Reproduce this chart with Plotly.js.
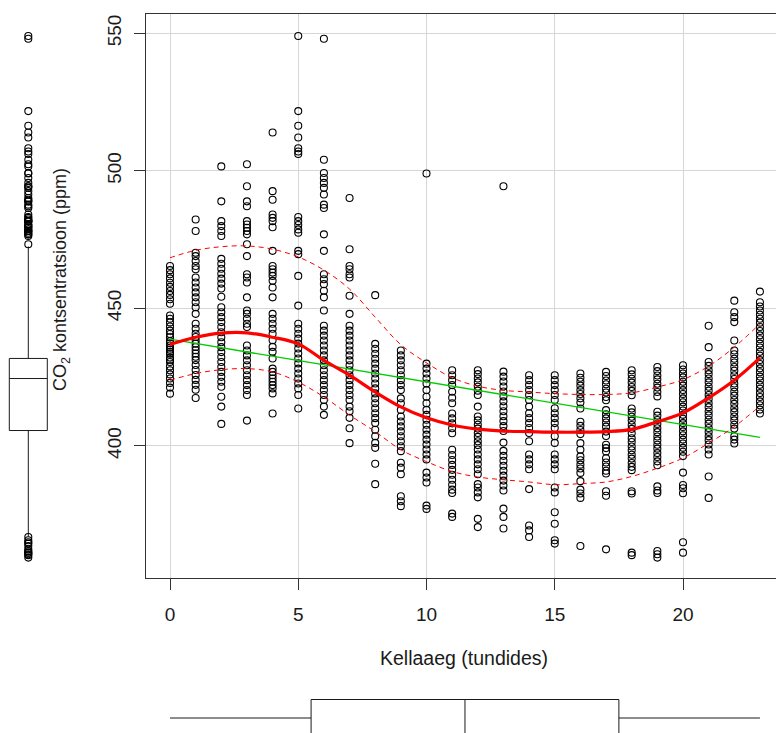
<!DOCTYPE html>
<html><head><meta charset="utf-8">
<script src="https://cdn.plot.ly/plotly-3.0.1.min.js"></script>
<style>
html,body{margin:0;padding:0;overflow:hidden;background:#fff;}
#wrap{width:776px;height:733px;overflow:hidden;position:relative;}
#chart{width:800px;height:760px;}
</style>
</head><body><div id="wrap"><div id="chart"></div></div>
<script>
// ---- Data: CO2 readings (ppm) by hour of day ----
const hours = [0,1,2,3,4,5,6,7,8,9,10,11,12,13,14,15,16,17,18,19,20,21,22,23];
const co2_h00 = [465.4,463.9,462.4,460.9,459.3,457.8,456.3,454.9,453.3,451.7,447.4,446.2,444.9,443.4,441.9,440.7,439.5,438.1,437.3,436.5,435.7,435.0,434.2,433.5,432.1,431.3,430.5,428.9,427.5,426.0,424.5,422.9,421.2,419.0];
const co2_h01 = [482.3,478.1,470.2,469.0,467.2,465.4,464.2,461.2,459.4,457.6,455.8,454.0,452.2,450.4,448.0,444.4,442.6,440.8,439.6,438.4,437.2,436.0,434.8,433.6,432.4,431.2,429.4,427.6,425.8,424.0,422.2,420.4,417.4];
const co2_h02 = [501.6,488.9,481.7,479.9,478.1,476.3,468.0,466.2,464.4,462.6,460.8,459.0,457.2,454.2,450.4,448.6,446.8,445.0,443.2,441.3,439.5,437.7,435.9,434.1,432.3,430.5,428.7,426.9,425.1,423.3,421.5,417.9,414.3,408.0];
const co2_h03 = [502.4,494.4,488.9,487.1,481.7,480.5,479.3,478.1,476.9,473.3,469.0,462.4,461.2,459.4,454.0,449.2,448.0,446.2,444.4,443.2,436.5,434.7,432.9,431.1,429.3,427.5,425.7,423.9,422.1,420.3,418.5,409.2];
const co2_h04 = [513.9,492.6,489.5,484.1,482.9,481.7,479.5,470.9,465.4,464.2,463.0,461.8,460.0,457.6,454.0,448.0,446.2,444.4,442.6,440.8,438.4,436.0,434.2,431.8,428.1,426.9,425.7,424.5,423.3,422.1,420.9,419.1,411.8];
const co2_h05 = [549.0,521.7,516.4,512.1,508.2,507.0,506.1,483.2,481.7,480.3,478.7,477.5,470.9,469.7,461.8,451.0,444.4,442.6,440.8,439.0,437.2,435.4,433.6,431.8,430.0,428.1,426.3,424.5,422.7,420.9,418.5,413.6];
const co2_h06 = [548.0,504.0,499.2,497.4,495.6,493.8,491.4,487.7,486.5,476.9,470.9,462.4,460.6,458.8,456.4,454.0,449.2,443.7,441.9,440.1,438.3,436.5,434.7,432.9,431.1,429.3,427.5,425.7,423.9,422.1,420.3,418.5,416.7,414.3,411.3];
const co2_h07 = [490.1,471.5,465.4,464.2,462.4,461.2,454.6,448.0,443.7,441.9,440.1,438.3,436.5,434.7,432.9,431.1,429.3,427.5,425.7,423.9,422.1,420.3,418.5,416.7,414.3,412.6,410.2,406.4,401.0];
const co2_h08 = [454.8,437.1,435.3,433.5,431.7,429.9,428.1,426.3,424.5,422.7,420.9,419.1,417.3,415.5,413.7,411.9,410.1,408.3,405.9,403.5,401.1,399.3,393.5,386.1];
const co2_h09 = [434.7,432.9,431.1,429.3,427.5,425.7,423.9,422.1,420.3,417.3,415.5,413.1,410.7,408.9,407.1,405.3,403.5,401.7,399.9,398.1,393.9,392.1,389.7,381.7,379.9,378.1];
const co2_h10 = [499.0,429.9,428.1,426.3,424.5,422.7,420.3,417.9,415.5,413.1,411.3,409.5,407.7,405.9,404.1,402.3,400.5,398.7,396.9,395.1,390.3,388.5,386.7,378.3,377.1];
const co2_h11 = [427.5,425.7,423.9,422.1,419.7,417.5,415.5,411.8,410.0,408.2,406.4,404.6,398.6,396.7,394.9,393.1,391.3,389.5,387.7,385.9,384.1,382.9,375.4,374.2];
const co2_h12 = [427.5,426.1,424.5,423.1,421.5,420.1,418.5,414.3,410.7,409.3,407.7,406.3,404.7,403.3,401.7,400.3,398.7,396.9,395.1,393.3,391.5,389.7,386.1,384.9,383.1,381.3,373.5,370.5];
const co2_h13 = [494.4,427.0,425.2,423.4,421.6,419.8,418.0,416.2,414.4,412.6,410.8,409.0,407.2,405.4,401.2,398.2,396.4,394.6,392.8,391.0,389.2,387.4,385.6,383.8,377.2,374.2,370.0];
const co2_h14 = [425.7,423.9,422.1,420.3,418.5,416.7,414.3,411.9,410.1,408.3,406.5,404.7,401.7,396.9,395.1,393.3,391.5,384.3,371.1,369.3,366.9];
const co2_h15 = [425.7,423.9,422.1,420.3,418.5,416.7,413.7,411.9,410.1,408.3,406.5,403.5,401.1,396.9,395.1,393.3,391.5,384.9,383.1,375.9,371.7,365.7,364.5];
const co2_h16 = [426.3,424.8,423.3,421.9,420.3,418.9,417.3,415.8,413.6,408.8,407.3,405.8,404.3,401.0,398.6,396.2,394.8,393.2,391.8,390.2,387.2,384.1,382.7,381.1,363.6];
const co2_h17 = [426.9,425.4,423.8,422.4,420.8,419.4,417.8,416.6,413.0,411.5,410.0,408.5,407.0,405.2,403.6,400.4,399.2,398.0,395.5,394.0,392.5,391.0,390.0,383.5,381.9,362.4];
const co2_h18 = [427.5,426.0,424.4,423.0,421.4,420.0,418.4,413.6,412.2,410.6,409.2,407.6,406.2,404.6,402.8,401.4,399.8,398.4,396.8,395.4,393.8,392.4,391.2,383.5,382.7,361.2,360.3];
const co2_h19 = [428.7,427.2,425.6,424.2,422.6,421.2,419.6,418.0,412.4,411.0,409.4,408.0,406.4,405.0,403.4,402.0,400.4,399.0,397.4,396.0,394.4,393.0,385.3,383.8,382.9,361.8,360.6,359.4];
const co2_h20 = [429.3,427.8,426.3,424.9,423.3,421.9,420.3,418.9,417.3,415.9,414.3,412.9,411.3,409.9,408.3,406.9,405.3,403.9,402.3,400.9,399.3,397.9,396.3,390.3,385.8,384.6,382.8,365.0,361.2];
const co2_h21 = [443.7,435.9,430.5,429.1,427.5,426.1,424.5,423.1,421.5,420.1,418.5,417.1,415.5,414.1,412.5,411.1,409.5,408.1,406.5,405.1,403.5,402.1,400.5,398.7,396.9,388.9,381.1];
const co2_h22 = [452.8,448.6,446.8,445.0,438.3,434.7,433.3,431.7,430.3,428.7,427.3,425.7,424.3,422.7,421.3,419.7,418.3,416.7,415.3,413.7,412.3,410.7,409.3,407.7,406.3,403.5,402.3,400.9];
const co2_h23 = [456.1,452.2,450.7,449.2,447.7,446.2,444.8,443.2,441.8,440.2,438.8,437.2,435.8,434.2,432.8,431.2,429.8,428.2,426.8,425.2,423.8,422.2,420.8,419.2,417.8,416.2,414.8,413.2,411.8];

// Smoother (loess) fit and its spread, evaluated at each hour
const loessFit   = [436.9,439.5,441.0,441.1,439.5,437.1,431.1,425.7,419.6,414.2,410.2,407.6,406.1,405.4,405.2,405.0,405.0,405.2,406.0,408.8,412.0,417.5,423.9,432.0];
const loessUpper = [468.4,471.1,472.4,472.7,471.5,468.7,463.9,457.0,446.8,436.8,430.2,424.8,421.7,420.2,419.6,419.0,418.7,418.7,419.3,421.4,424.1,429.0,435.9,444.4];
const loessLower = [423.9,426.3,427.7,428.1,426.9,423.2,417.8,411.2,405.2,398.6,394.3,390.7,388.7,387.7,386.9,385.9,386.3,386.9,388.9,391.9,395.6,401.0,407.0,414.5];
// Linear regression line end points
const regHours = [0, 23];
const regCO2   = [438.8, 403.1];
// Marginal boxplot stats: [lower whisker, Q1, median, Q3, upper whisker]
const co2Box  = [367.0, 405.6, 424.5, 431.8, 472.5];
const hourBox = [0, 5.5, 11.5, 17.5, 23];
// Tick labels
const xTicks = [0, 5, 10, 15, 20];
const yTicks = [400, 450, 500, 550];

// ---- Build traces ----
const cols = [co2_h00,co2_h01,co2_h02,co2_h03,co2_h04,co2_h05,co2_h06,co2_h07,co2_h08,co2_h09,co2_h10,co2_h11,
              co2_h12,co2_h13,co2_h14,co2_h15,co2_h16,co2_h17,co2_h18,co2_h19,co2_h20,co2_h21,co2_h22,co2_h23];
const px = [], py = [];
cols.forEach((arr, i) => arr.forEach(v => { px.push(hours[i]); py.push(v); }));
const outl = py.filter(v => v > co2Box[4] || v < co2Box[0]);

const W = 800, H = 760;
const fx = p => p / W, fy = p => 1 - p / H;
const FONT = 'Liberation Sans, Arial, sans-serif';
const INK = '#1a1a1a', AX = '#333333';

const xDom = [fx(146), fx(783.6)];
const yDom = [fy(577.7), fy(14)];
const xRange = [-0.9357, 23.922];
const yRange = [352.1, 557.0];

const traces = [
  {type:'scatter', mode:'markers', x:px, y:py, xaxis:'x', yaxis:'y',
   marker:{symbol:'circle-open', size:7, color:'#000', line:{width:1.1, color:'#000'}}, hoverinfo:'skip'},
  {type:'scatter', mode:'lines', x:regHours, y:regCO2, line:{color:'#00CD00', width:1.3}, hoverinfo:'skip'},
  {type:'scatter', mode:'lines', x:hours, y:loessUpper, line:{color:'#FF0000', width:1, dash:'5px,4px', shape:'spline'}, hoverinfo:'skip'},
  {type:'scatter', mode:'lines', x:hours, y:loessLower, line:{color:'#FF0000', width:1, dash:'5px,4px', shape:'spline'}, hoverinfo:'skip'},
  {type:'scatter', mode:'lines', x:hours, y:loessFit, line:{color:'#FF0000', width:3.2, shape:'spline'}, hoverinfo:'skip'},
  // left marginal boxplot
  {type:'box', x:[28.3], q1:[co2Box[1]], median:[co2Box[2]], q3:[co2Box[3]], lowerfence:[co2Box[0]], upperfence:[co2Box[4]],
   xaxis:'x2', yaxis:'y2', width:38, whiskerwidth:0, line:{color:INK, width:1}, fillcolor:'rgba(0,0,0,0)', boxpoints:false, hoverinfo:'skip'},
  {type:'scatter', mode:'markers', x:outl.map(()=>28.3), y:outl, xaxis:'x2', yaxis:'y2',
   marker:{symbol:'circle-open', size:7, color:'#000', line:{width:1.1, color:'#000'}}, hoverinfo:'skip'},
  // bottom marginal boxplot
  {type:'box', orientation:'h', y:[32], q1:[hourBox[1]], median:[hourBox[2]], q3:[hourBox[3]], lowerfence:[hourBox[0]], upperfence:[hourBox[4]],
   xaxis:'x3', yaxis:'y3', width:37, whiskerwidth:0, line:{color:INK, width:1}, fillcolor:'rgba(0,0,0,0)', boxpoints:false, hoverinfo:'skip'}
];

const axFont = {family:FONT, size:19, color:INK};
const layout = {
  width:W, height:H, margin:{l:0,r:0,t:0,b:0}, showlegend:false,
  paper_bgcolor:'#fff', plot_bgcolor:'#fff',
  xaxis:{domain:xDom, range:xRange, anchor:'y', tickmode:'array', tickvals:xTicks, ticktext:xTicks.map(String),
         ticks:'outside', ticklen:11, tickwidth:1, tickcolor:AX, showline:true, linecolor:AX, linewidth:1, mirror:true,
         showgrid:true, gridcolor:'#d6d6d6', gridwidth:1, zeroline:false, tickfont:axFont, ticklabelstandoff:8},
  yaxis:{domain:yDom, range:yRange, anchor:'x', tickmode:'array', tickvals:yTicks, ticktext:yTicks.map(String), tickangle:-90,
         ticks:'outside', ticklen:11, tickwidth:1, tickcolor:AX, showline:true, linecolor:AX, linewidth:1, mirror:true,
         showgrid:true, gridcolor:'#d6d6d6', gridwidth:1, zeroline:false, tickfont:axFont, ticklabelstandoff:5},
  xaxis2:{domain:[0, fx(60)], range:[0,60], anchor:'y2', visible:false, fixedrange:true},
  yaxis2:{domain:yDom, range:yRange, anchor:'x2', visible:false, fixedrange:true},
  xaxis3:{domain:xDom, range:xRange, anchor:'y3', visible:false, fixedrange:true},
  yaxis3:{domain:[fy(750), fy(690)], range:[0,60], anchor:'x3', visible:false, fixedrange:true},
  annotations:[
    {text:'Kellaaeg (tundides)', xref:'paper', yref:'paper', x:fx(464), y:fy(658), xanchor:'center', yanchor:'middle',
     showarrow:false, font:{family:FONT, size:19.5, color:INK}},
    {text:'CO<sub>2</sub> kontsentratsioon (ppm)', xref:'paper', yref:'paper', x:fx(61), y:fy(280), xanchor:'center', yanchor:'middle',
     textangle:-90, showarrow:false, font:{family:FONT, size:18, color:INK}}
  ]
};
Plotly.newPlot('chart', traces, layout, {staticPlot:true, displayModeBar:false});
</script></body></html>
